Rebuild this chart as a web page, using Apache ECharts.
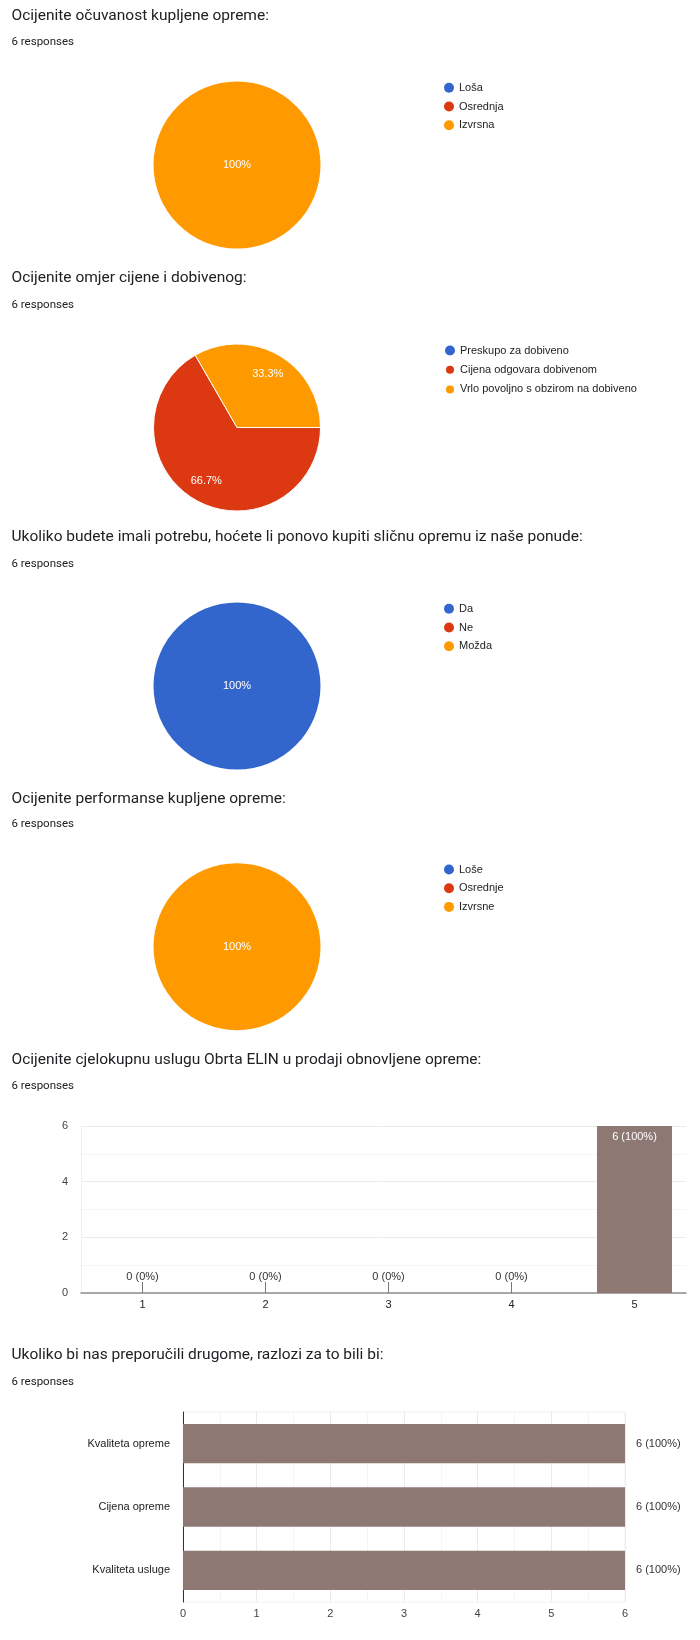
<!DOCTYPE html>
<html><head><meta charset="utf-8">
<script src="https://cdn.jsdelivr.net/npm/echarts@6/dist/echarts.min.js"></script>
<style>html,body{margin:0;padding:0;background:#fff}#c{width:700px;height:1640px}</style>
</head><body><div id="c"></div>
<script>
// ---------- DATA ----------
const responses = 6;
const responsesText = '6 responses';

const q1Title = 'Ocijenite očuvanost kupljene opreme:';
const q1Labels = ['Loša', 'Osrednja', 'Izvrsna'];
const q1Values = [0, 0, 6];

const q2Title = 'Ocijenite omjer cijene i dobivenog:';
const q2Labels = ['Preskupo za dobiveno', 'Cijena odgovara dobivenom', 'Vrlo povoljno s obzirom na dobiveno'];
const q2Values = [0, 4, 2];

const q3Title = 'Ukoliko budete imali potrebu, hoćete li ponovo kupiti sličnu opremu iz naše ponude:';
const q3Labels = ['Da', 'Ne', 'Možda'];
const q3Values = [6, 0, 0];

const q4Title = 'Ocijenite performanse kupljene opreme:';
const q4Labels = ['Loše', 'Osrednje', 'Izvrsne'];
const q4Values = [0, 0, 6];

const q5Title = 'Ocijenite cjelokupnu uslugu Obrta ELIN u prodaji obnovljene opreme:';
const q5Categories = ['1', '2', '3', '4', '5'];
const q5Values = [0, 0, 0, 0, 6];
const q5AxisMax = 6;

const q6Title = 'Ukoliko bi nas preporučili drugome, razlozi za to bili bi:';
const q6Categories = ['Kvaliteta opreme', 'Cijena opreme', 'Kvaliteta usluge'];
const q6Values = [6, 6, 6];
const q6AxisMax = 6;

const pieColors = ['#3366cc', '#dc3912', '#ff9900'];
const barColor = '#8e7874';

// ---------- LAYOUT ----------
const chartFont = '"Liberation Sans", Arial, sans-serif';
const titleFont = 'Roboto, "Noto Sans", sans-serif';
const pies = [
  {title: q1Title, labels: q1Labels, values: q1Values, titleY: 15.7, respY: 42.5, cy: 165, legendTop: 82.3},
  {title: q2Title, labels: q2Labels, values: q2Values, titleY: 278.3, respY: 305.2, cy: 427.5, legendTop: 345},
  {title: q3Title, labels: q3Labels, values: q3Values, titleY: 536.7, respY: 563.8, cy: 686, legendTop: 603.3},
  {title: q4Title, labels: q4Labels, values: q4Values, titleY: 799.2, respY: 824.5, cy: 946.7, legendTop: 864}
];
const pieCx = 237, pieR = 83.5;

const graphics = [];
function addHeader(title, ty, ry) {
  graphics.push({type: 'text', x: 11.5, y: ty, silent: true,
    style: {text: title, fill: '#202124', font: '15.5px ' + titleFont, verticalAlign: 'middle'}});
  graphics.push({type: 'text', x: 11.5, y: ry, silent: true,
    style: {text: responsesText, fill: '#202124', font: '11.5px ' + titleFont, verticalAlign: 'middle'}});
}

const series = [], legends = [];
const pctFmt = p => (p.value > 0 ? p.percent + '%' : '');

pies.forEach((p, i) => {
  addHeader(p.title, p.titleY, p.respY);
  const nonZero = p.values.filter(v => v > 0).length;
  const data = p.labels.map((name, k) => ({
    name, value: p.values[k],
    itemStyle: {color: pieColors[k], borderColor: '#fff', borderWidth: p.values[k] > 0 && nonZero > 1 ? 1 : 0}
  }));
  series.push({
    type: 'pie', center: [pieCx, p.cy], radius: pieR, startAngle: 0, clockwise: true,
    percentPrecision: 1, silent: true, animation: false, data,
    label: nonZero > 1 ? {show: false} :
      {show: true, position: 'center', formatter: pctFmt, color: '#fff', fontSize: 11, fontFamily: chartFont},
    labelLine: {show: false}
  });
  if (nonZero > 1) {
    series.push({
      type: 'pie', center: [pieCx, p.cy], radius: [pieR * 0.4, pieR], startAngle: 0, clockwise: true,
      percentPrecision: 1, silent: true, animation: false,
      data: p.labels.map((name, k) => ({name, value: p.values[k], itemStyle: {color: 'rgba(0,0,0,0)', borderWidth: 0}})),
      label: {show: true, position: 'inside', formatter: pctFmt, color: '#fff', fontSize: 11, fontFamily: chartFont},
      labelLine: {show: false}
    });
  }
  legends.push({
    orient: 'vertical', left: 444, top: p.legendTop, padding: 0, icon: 'circle',
    itemWidth: 10, itemHeight: 10, itemGap: 7.7, selectedMode: false,
    textStyle: {fontFamily: chartFont, fontSize: 11, color: '#222', lineHeight: 10},
    data: p.labels
  });
});

// ---------- BAR CHART 5 ----------
addHeader(q5Title, 1060, 1086.2);
addHeader(q6Title, 1355.3, 1381.7);

const grids = [
  {left: 81, right: 14, top: 1126, height: 167},            // 0: gridlines for chart 5
  {left: 81, width: 615, top: 1126, height: 167},           // 1: bars for chart 5
  {left: 183, right: 75, top: 1412, height: 190, show: true, borderColor: '#f0f0f0', borderWidth: 1} // 2: chart 6
];
const xAxes = [
  {gridIndex: 0, type: 'value', min: 0, max: 1, axisLabel: {show: false}, splitLine: {show: false}, axisTick: {show: false},
   axisLine: {show: true, lineStyle: {color: '#8f8f8f', width: 1.5}}},
  {gridIndex: 1, type: 'category', data: q5Categories, axisLine: {show: false},
   axisTick: {show: true, inside: true, length: 11, alignWithLabel: true, lineStyle: {color: '#777', width: 1}},
   axisLabel: {color: '#222', fontSize: 11, fontFamily: chartFont, margin: 6}},
  {gridIndex: 2, type: 'value', min: 0, max: q6AxisMax, interval: 1,
   axisLine: {show: false}, axisTick: {show: false},
   axisLabel: {color: '#444', fontSize: 11, fontFamily: chartFont, margin: 6},
   splitLine: {show: true, lineStyle: {color: '#ebebeb'}},
   minorTick: {show: false, splitNumber: 2},
   minorSplitLine: {show: true, lineStyle: {color: '#f5f5f5'}}}
];
const yAxes = [
  {gridIndex: 0, type: 'value', min: 0, max: q5AxisMax, interval: 2,
   axisLine: {show: true, lineStyle: {color: '#f0f0f0'}}, axisTick: {show: false},
   axisLabel: {color: '#444', fontSize: 11, fontFamily: chartFont, margin: 13},
   splitLine: {show: true, lineStyle: {color: '#ebebeb'}},
   minorTick: {show: false, splitNumber: 2},
   minorSplitLine: {show: true, lineStyle: {color: '#f5f5f5'}}},
  {gridIndex: 1, type: 'value', min: 0, max: q5AxisMax, show: false},
  {gridIndex: 2, type: 'category', data: q6Categories, inverse: true,
   axisLine: {show: true, lineStyle: {color: '#333', width: 1}}, axisTick: {show: false},
   axisLabel: {color: '#222', fontSize: 11, fontFamily: chartFont, margin: 13}}
];

const countFmt = p => p.value + ' (' + Math.round(p.value / responses * 100) + '%)';

series.push({
  type: 'bar', xAxisIndex: 1, yAxisIndex: 1, barCategoryGap: '39%', silent: true, animation: false,
  itemStyle: {color: barColor},
  data: q5Values.map(v => ({
    value: v,
    label: v > 0
      ? {show: true, position: 'insideTop', distance: 5, color: '#fff', fontSize: 11, fontFamily: chartFont, formatter: countFmt}
      : {show: true, position: 'top', distance: 11, color: '#333', fontSize: 11, fontFamily: chartFont, formatter: countFmt}
  }))
});

series.push({
  type: 'bar', xAxisIndex: 2, yAxisIndex: 2, barCategoryGap: '38%', silent: true, animation: false,
  itemStyle: {color: barColor},
  label: {show: true, position: 'right', distance: 11, color: '#333', fontSize: 11, fontFamily: chartFont, formatter: countFmt},
  data: q6Values
});

const chart = echarts.init(document.getElementById('c'), null, {renderer: 'canvas'});
chart.setOption({
  animation: false,
  backgroundColor: '#fff',
  grid: grids, xAxis: xAxes, yAxis: yAxes,
  legend: legends,
  series,
  graphic: graphics
});
</script></body></html>
